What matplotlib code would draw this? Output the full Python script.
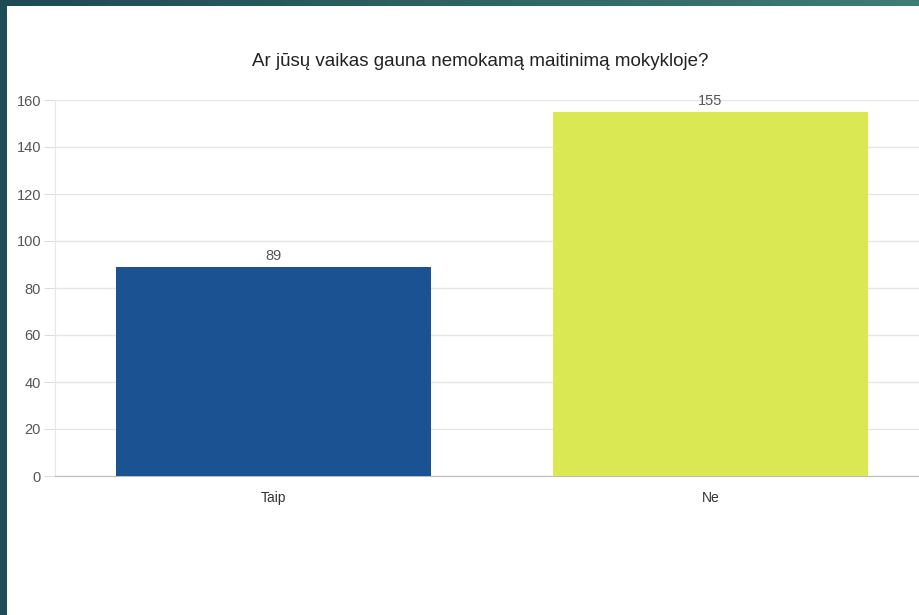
import numpy as np
import matplotlib.pyplot as plt
from matplotlib.patches import Rectangle
from matplotlib.colors import LinearSegmentedColormap

categories = ["Taip", "Ne"]
counts = [89, 155]
bar_colors = ["#1a5292", "#d9e853"]
title = "Ar jūsų vaikas gauna nemokamą maitinimą mokykloje?"
yticks = [0, 20, 40, 60, 80, 100, 120, 140, 160]

plt.rcParams['font.family'] = ['Liberation Sans', 'DejaVu Sans']

W, H = 919, 615
fig = plt.figure(figsize=(W / 100, H / 100), dpi=100)
fig.patch.set_facecolor("#1e4d57")

# top strip with a teal gradient, like the slide background
strip = fig.add_axes([0, 1 - 6 / H, 1, 6 / H])
grad = np.linspace(0, 1, 256).reshape(1, -1)
cmap = LinearSegmentedColormap.from_list("teal", ["#1d4a55", "#2c6462", "#3e7d71"])
strip.imshow(grad, aspect="auto", cmap=cmap, extent=[0, 1, 0, 1])
strip.axis("off")

# white card behind the chart
fig.patches.append(Rectangle((7 / W, 0), 1, 1 - 6 / H, transform=fig.transFigure,
                             facecolor="white", edgecolor="none", zorder=-10))

ax = fig.add_axes([55 / W, (H - 476) / H, (929 - 55) / W, 376 / H])
ax.set_facecolor("none")
x = np.arange(len(categories))
bars = ax.bar(x, counts, width=0.72, color=bar_colors, zorder=3)
for b, v in zip(bars, counts):
    ax.text(b.get_x() + b.get_width() / 2, v + 1.8, str(v), ha="center", va="bottom",
            fontsize=10.5, color="#555555")

ax.set_xlim(-0.5, 1.5)
ax.set_ylim(0, 160)
ax.set_yticks(yticks)
ax.set_xticks(x)
ax.set_xticklabels(categories)
ax.grid(axis="y", color="#e6e6e6", linewidth=1, zorder=0)
ax.tick_params(axis="y", length=8, color="#dddddd", labelsize=10.5, labelcolor="#555555", pad=2)
ax.tick_params(axis="x", length=0, labelsize=10, labelcolor="#333333", pad=11)
for s in ["top", "right"]:
    ax.spines[s].set_visible(False)
ax.spines["left"].set_color("#e6e6e6")
ax.spines["bottom"].set_color("#bbbbbb")

fig.text(480 / W, 1 - 62 / H, title, ha="center", va="center",
         fontsize=13.5, color="#222222")

fig.savefig("out.png", dpi=100, facecolor=fig.get_facecolor())
